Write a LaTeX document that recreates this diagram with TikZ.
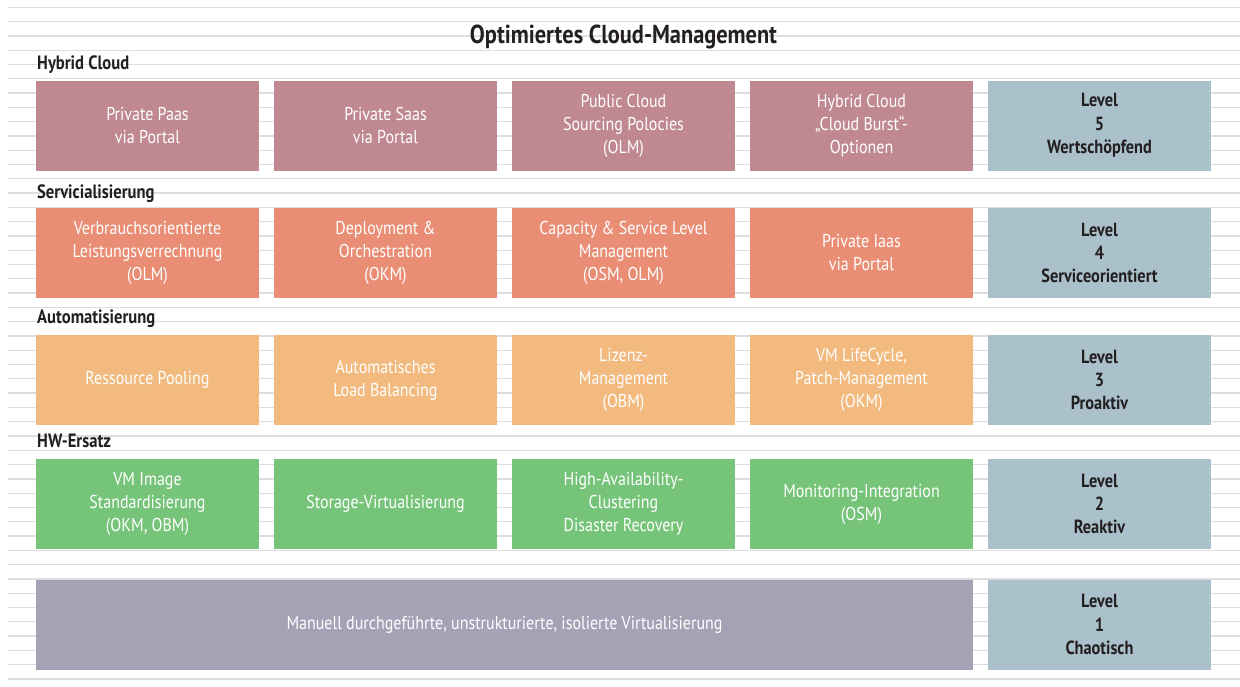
\documentclass[tikz,border=0pt]{standalone}
\usepackage{fontspec}
\setmainfont[FakeStretch=0.86]{PT Sans}

\definecolor{rulegray}{RGB}{222,222,222}
\definecolor{hybridcol}{RGB}{192,136,145}
\definecolor{servicecol}{RGB}{233,141,116}
\definecolor{autocol}{RGB}{242,186,126}
\definecolor{hwcol}{RGB}{118,196,121}
\definecolor{manualcol}{RGB}{164,162,181}
\definecolor{levelcol}{RGB}{170,192,203}
\definecolor{inkcol}{RGB}{35,31,32}

\begin{document}
\begin{tikzpicture}[x=1pt, y=-1pt,
    box/.style={minimum width=223pt, minimum height=90pt, inner sep=0pt, align=center,
        text=white, font=\fontsize{18.6}{23}\selectfont},
    levelbox/.style={box, fill=levelcol, text=inkcol, font=\fontsize{19}{23.3}\selectfont\bfseries},
    rowlabel/.style={anchor=base west, inner sep=0pt, text=inkcol, font=\fontsize{19.3}{22}\selectfont\bfseries}]
        \useasboundingbox (0, 0) rectangle (1240, 686);
        % ruled background, from top to down
        \draw[rulegray, line width=1.3pt] (8, 7.3) -- (1240, 7.3);
        \draw[rulegray, line width=1.3pt] (8, 21.6) -- (1240, 21.6);
        \draw[rulegray, line width=1.3pt] (8, 35.9) -- (1240, 35.9);
        \draw[rulegray, line width=1.3pt] (8, 50.2) -- (1240, 50.2);
        \draw[rulegray, line width=1.3pt] (8, 64.5) -- (1240, 64.5);
        \draw[rulegray, line width=1.3pt] (8, 78.8) -- (1240, 78.8);
        \draw[rulegray, line width=1.3pt] (8, 93.0) -- (1240, 93.0);
        \draw[rulegray, line width=1.3pt] (8, 107.3) -- (1240, 107.3);
        \draw[rulegray, line width=1.3pt] (8, 121.6) -- (1240, 121.6);
        \draw[rulegray, line width=1.3pt] (8, 135.9) -- (1240, 135.9);
        \draw[rulegray, line width=1.3pt] (8, 150.2) -- (1240, 150.2);
        \draw[rulegray, line width=1.3pt] (8, 164.5) -- (1240, 164.5);
        \draw[rulegray, line width=1.3pt] (8, 178.8) -- (1240, 178.8);
        \draw[rulegray, line width=1.3pt] (8, 193.1) -- (1240, 193.1);
        \draw[rulegray, line width=1.3pt] (8, 207.4) -- (1240, 207.4);
        \draw[rulegray, line width=1.3pt] (8, 221.7) -- (1240, 221.7);
        \draw[rulegray, line width=1.3pt] (8, 235.9) -- (1240, 235.9);
        \draw[rulegray, line width=1.3pt] (8, 250.2) -- (1240, 250.2);
        \draw[rulegray, line width=1.3pt] (8, 264.5) -- (1240, 264.5);
        \draw[rulegray, line width=1.3pt] (8, 278.8) -- (1240, 278.8);
        \draw[rulegray, line width=1.3pt] (8, 293.1) -- (1240, 293.1);
        \draw[rulegray, line width=1.3pt] (8, 307.4) -- (1240, 307.4);
        \draw[rulegray, line width=1.3pt] (8, 321.7) -- (1240, 321.7);
        \draw[rulegray, line width=1.3pt] (8, 336.0) -- (1240, 336.0);
        \draw[rulegray, line width=1.3pt] (8, 350.3) -- (1240, 350.3);
        \draw[rulegray, line width=1.3pt] (8, 364.6) -- (1240, 364.6);
        \draw[rulegray, line width=1.3pt] (8, 378.8) -- (1240, 378.8);
        \draw[rulegray, line width=1.3pt] (8, 393.1) -- (1240, 393.1);
        \draw[rulegray, line width=1.3pt] (8, 407.4) -- (1240, 407.4);
        \draw[rulegray, line width=1.3pt] (8, 421.7) -- (1240, 421.7);
        \draw[rulegray, line width=1.3pt] (8, 436.0) -- (1240, 436.0);
        \draw[rulegray, line width=1.3pt] (8, 450.3) -- (1240, 450.3);
        \draw[rulegray, line width=1.3pt] (8, 464.6) -- (1240, 464.6);
        \draw[rulegray, line width=1.3pt] (8, 478.9) -- (1240, 478.9);
        \draw[rulegray, line width=1.3pt] (8, 493.2) -- (1240, 493.2);
        \draw[rulegray, line width=1.3pt] (8, 507.5) -- (1240, 507.5);
        \draw[rulegray, line width=1.3pt] (8, 521.7) -- (1240, 521.7);
        \draw[rulegray, line width=1.3pt] (8, 536.0) -- (1240, 536.0);
        \draw[rulegray, line width=1.3pt] (8, 550.3) -- (1240, 550.3);
        \draw[rulegray, line width=1.3pt] (8, 564.6) -- (1240, 564.6);
        \draw[rulegray, line width=1.3pt] (8, 578.9) -- (1240, 578.9);
        \draw[rulegray, line width=1.3pt] (8, 593.2) -- (1240, 593.2);
        \draw[rulegray, line width=1.3pt] (8, 607.5) -- (1240, 607.5);
        \draw[rulegray, line width=1.3pt] (8, 621.8) -- (1240, 621.8);
        \draw[rulegray, line width=1.3pt] (8, 636.1) -- (1240, 636.1);
        \draw[rulegray, line width=1.3pt] (8, 650.4) -- (1240, 650.4);
        \draw[rulegray, line width=1.3pt] (8, 664.6) -- (1240, 664.6);
        \draw[rulegray, line width=1.3pt] (8, 678.9) -- (1240, 678.9);

        \node[anchor=base, inner sep=0pt, text=inkcol, font=\fontsize{26}{30}\selectfont\bfseries] (title) at (623.5, 43.3) {Optimiertes Cloud-Management};

        % level 5
        \node[rowlabel] (hybridlbl) at (37, 69.3) {Hybrid Cloud};
        \node[box, fill=hybridcol] (paas) at (147.5, 125.5) {Private Paas\\via Portal};
        \node[box, fill=hybridcol] (saas) at (385.5, 125.5) {Private Saas\\via Portal};
        \node[box, fill=hybridcol] (sourcing) at (623.5, 125.5) {Public Cloud\\Sourcing Polocies\\(OLM)};
        \node[box, fill=hybridcol] (burst) at (861.5, 125.5) {Hybrid Cloud\\„Cloud Burst“-\\Optionen};
        \node[levelbox] (level5) at (1099.5, 125.5) {Level\\5\\Wertschöpfend};

        % level 4
        \node[rowlabel] (servicelbl) at (37, 198) {Servicialisierung};
        \node[box, fill=servicecol] (billing) at (147.5, 253) {Verbrauchsorientierte\\Leistungsverrechnung\\(OLM)};
        \node[box, fill=servicecol] (deploy) at (385.5, 253) {Deployment \&\\Orchestration\\(OKM)};
        \node[box, fill=servicecol] (capacity) at (623.5, 253) {Capacity \& Service Level\\Management\\(OSM, OLM)};
        \node[box, fill=servicecol] (iaas) at (861.5, 253) {Private Iaas\\via Portal};
        \node[levelbox] (level4) at (1099.5, 253) {Level\\4\\Serviceorientiert};

        % level 3
        \node[rowlabel] (autolbl) at (37, 323) {Automatisierung};
        \node[box, fill=autocol] (pooling) at (147.5, 380) {Ressource Pooling};
        \node[box, fill=autocol] (balancing) at (385.5, 380) {Automatisches\\Load Balancing};
        \node[box, fill=autocol] (license) at (623.5, 380) {Lizenz-\\Management\\(OBM)};
        \node[box, fill=autocol] (lifecycle) at (861.5, 380) {VM LifeCycle,\\Patch-Management\\(OKM)};
        \node[levelbox] (level3) at (1099.5, 380) {Level\\3\\Proaktiv};

        % level 2
        \node[rowlabel] (hwlbl) at (37, 447.7) {HW-Ersatz};
        \node[box, fill=hwcol] (image) at (147.5, 504) {VM Image\\Standardisierung\\(OKM, OBM)};
        \node[box, fill=hwcol] (storage) at (385.5, 504) {Storage-Virtualisierung};
        \node[box, fill=hwcol] (cluster) at (623.5, 504) {High-Availability-\\Clustering\\Disaster Recovery};
        \node[box, fill=hwcol] (monitor) at (861.5, 504) {Monitoring-Integration\\(OSM)};
        \node[levelbox] (level2) at (1099.5, 504) {Level\\2\\Reaktiv};

        % level 1
        \node[box, fill=manualcol, minimum width=937pt] (manual) at (504.5, 624.5) {Manuell durchgeführte, unstrukturierte, isolierte Virtualisierung};
        \node[levelbox] (level1) at (1099.5, 624.5) {Level\\1\\Chaotisch};
    \end{tikzpicture}
\end{document}
